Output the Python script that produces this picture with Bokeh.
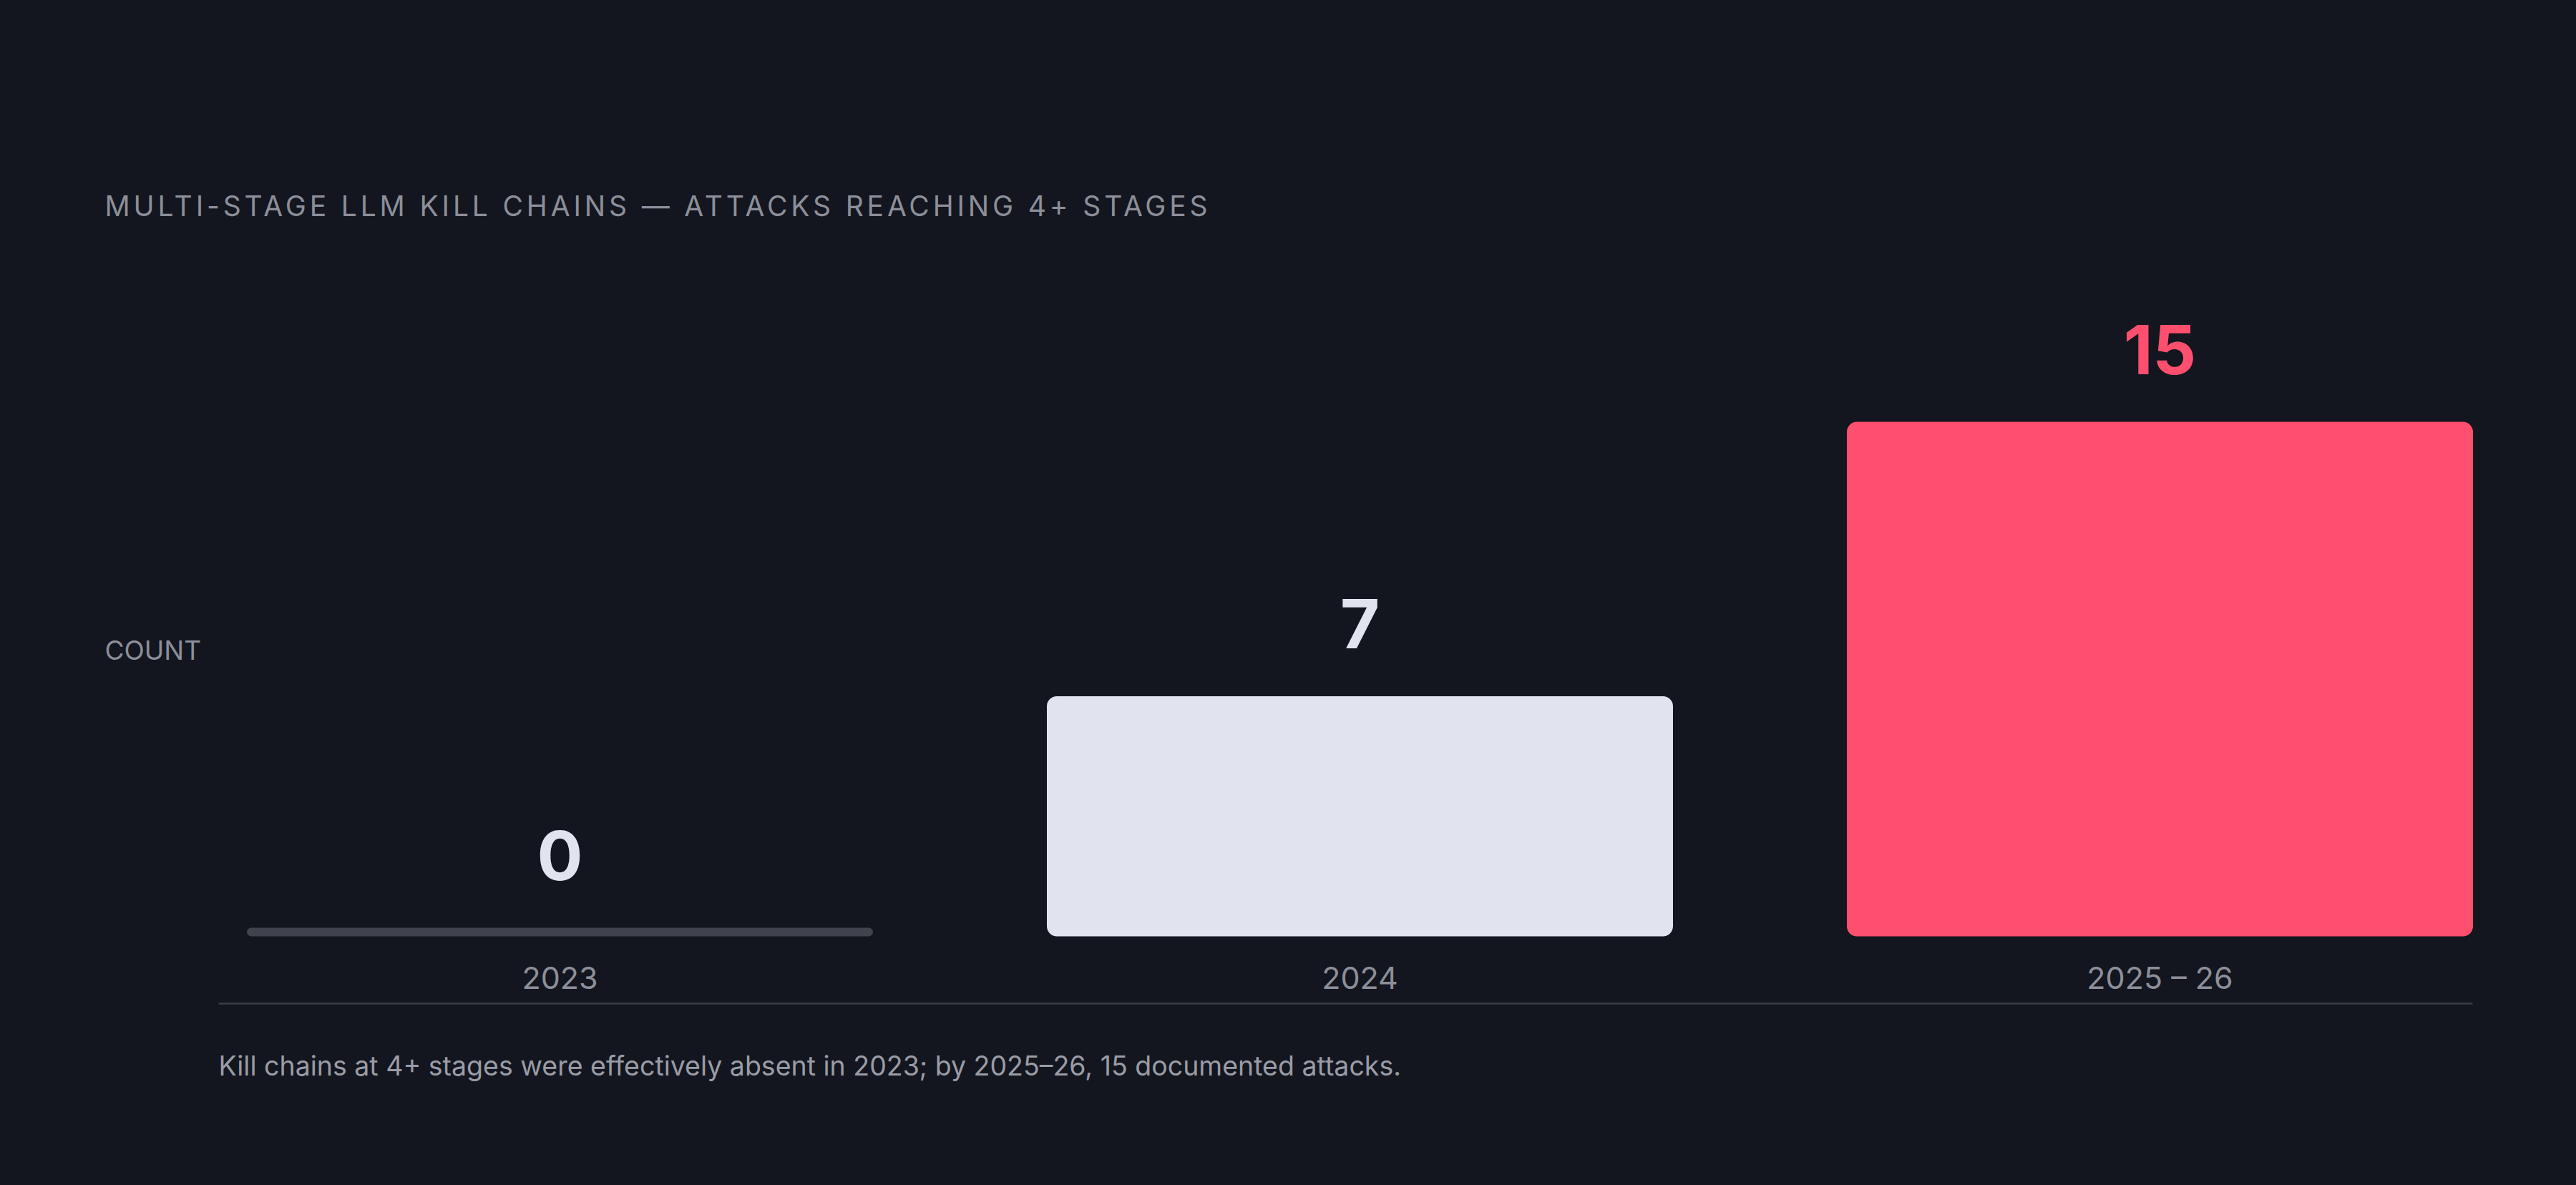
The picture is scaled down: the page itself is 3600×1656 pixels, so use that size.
from bokeh.plotting import figure
from bokeh.models import ColumnDataSource, Range1d, Label
from bokeh.layouts import column
from bokeh.core.properties import value
from bokeh.embed import file_html
from bokeh.resources import INLINE

# ---- data ----
categories = ["2023", "2024", "2025 – 26"]
counts = [0, 7, 15]
value_labels = ["0", "7", "15"]
bar_colors = ["#40424c", "#e1e3ef", "#ff4f6e"]
label_colors = ["#e1e3ef", "#e1e3ef", "#ff4f6e"]

title_text = "MULTI-STAGE LLM KILL CHAINS — ATTACKS REACHING 4+ STAGES"
ylabel_text = "COUNT"
note_text = "Kill chains at 4+ stages were effectively absent in 2023; by 2025–26, 15 documented attacks."

# ---- style / layout (page pixel geometry) ----
BG = "#13161e"
MUTED = "#8c8f99"
FONT = "Inter"
W, H = 3584, 1640          # total drawing size
TH = 400                   # height of the title strip
OX, OY = 0, TH             # where the main figure lands on the page
HM = H - TH                # main figure height
PPU = 47.93                # pixels per count unit
PITCH = 1118.0             # px between category centres
C0_X = 782.0               # page x of first category centre
ZERO_Y = 1308.0            # page y of count 0
RULE_Y = 1402.0            # page y of bottom rule
RULE_X0, RULE_X1 = 305.0, 3455.0
BAR_W = 875.0 / PITCH
MIN_VIS = 12.0 / PPU       # minimum visible bar height
FIX_VAL = 0.38             # baseline corrections (fraction of font size)
FIX_TXT = 0.35

xs = list(range(len(categories)))
tops = [max(c, MIN_VIS) for c in counts]
VAL_FS = 95
CAT_FS = 43
yoffs = [-(77 if c == 0 else 65) - FIX_VAL * VAL_FS for c in counts]

# ---- title strip (letter-spaced) ----
TITLE_FS = 39
tp = figure(width=W, height=TH, output_backend="svg", toolbar_location=None,
            x_range=Range1d(0, 1), y_range=Range1d(0, 1),
            min_border=0, background_fill_color=BG, border_fill_color=BG,
            outline_line_color=None, styles={"letter-spacing": "4.85px"})
tp.grid.visible = False
tp.axis.visible = False
tp.add_layout(Label(x=146, y=TH - 301 + FIX_TXT * TITLE_FS, x_units="screen", y_units="screen",
                    text=title_text, text_color=MUTED, text_font=FONT,
                    text_font_size=f"{TITLE_FS}px", text_baseline="alphabetic",
                    text_align="left"))

# ---- main chart ----
x_start = -(C0_X - OX) / PITCH
x_end = x_start + W / PITCH
y_start = -((OY + HM) - ZERO_Y) / PPU
y_end = y_start + HM / PPU

p = figure(width=W, height=HM, output_backend="svg", toolbar_location=None,
           x_range=Range1d(x_start, x_end), y_range=Range1d(y_start, y_end),
           min_border=0, background_fill_color=BG, border_fill_color=BG,
           outline_line_color=None)
p.grid.visible = False
p.axis.visible = False

# bottom rule
rule_y = -(RULE_Y - ZERO_Y) / PPU
p.segment(x0=[-(C0_X - RULE_X0) / PITCH], x1=[(RULE_X1 - C0_X) / PITCH], y0=[rule_y], y1=[rule_y],
          line_color="#3a3c46", line_width=2.5)

nz = [i for i, c in enumerate(counts) if c != 0]
zz = [i for i, c in enumerate(counts) if c == 0]

src_nz = ColumnDataSource(dict(x=[xs[i] for i in nz], top=[tops[i] for i in nz],
                               color=[bar_colors[i] for i in nz]))
src_z = ColumnDataSource(dict(x=[xs[i] for i in zz], top=[tops[i] for i in zz],
                              color=[bar_colors[i] for i in zz]))
p.vbar(x="x", top="top", bottom=0, width=BAR_W, source=src_nz, fill_color="color",
       line_color=None, border_radius=14)
p.vbar(x="x", top="top", bottom=0, width=BAR_W, source=src_z, fill_color="color",
       line_color=None, border_radius=6)

src_lbl = ColumnDataSource(dict(x=xs, y=counts, text=value_labels, color=label_colors, yoff=yoffs))
p.text(x="x", y="y", text="text", source=src_lbl, text_color="color", y_offset="yoff",
       text_font=value(FONT), text_font_style="bold", text_font_size=f"{VAL_FS}px",
       text_align="center", text_baseline="alphabetic")

src_cat = ColumnDataSource(dict(x=xs, y=[0] * len(xs), text=categories))
p.text(x="x", y="y", text="text", source=src_cat, text_color=MUTED,
       y_offset=73 - FIX_TXT * CAT_FS,
       text_font=value(FONT), text_font_size=f"{CAT_FS}px",
       text_align="center", text_baseline="alphabetic")

def add_label(px, baseline_py, text, fs, color):
    p.add_layout(Label(x=px - OX, y=(OY + HM) - baseline_py + FIX_TXT * fs,
                       x_units="screen", y_units="screen", text=text,
                       text_color=color, text_font=FONT, text_font_size=f"{fs}px",
                       text_baseline="alphabetic", text_align="left"))

add_label(146, 921, ylabel_text, 37, MUTED)
add_label(305, 1502, note_text, 37.5, "#9a9ca6")

layout = column(tp, p, spacing=0)

html = file_html(layout, INLINE)
style = "<style>html,body{background-color:%s;}</style>" % BG
html = html.replace("</head>", style + "</head>", 1)
open("out.html", "w").write(html)
